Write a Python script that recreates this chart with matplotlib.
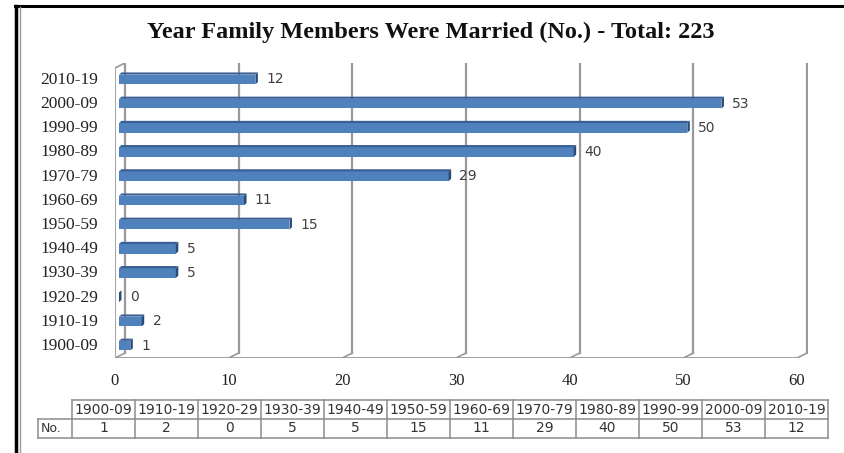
import matplotlib
matplotlib.use("Agg")
import matplotlib.pyplot as plt
from matplotlib.patches import Polygon
from matplotlib.lines import Line2D

# ---- data ----
categories = ["1900-09", "1910-19", "1920-29", "1930-39", "1940-49", "1950-59",
              "1960-69", "1970-79", "1980-89", "1990-99", "2000-09", "2010-19"]
values = [1, 2, 0, 5, 5, 15, 11, 29, 40, 50, 53, 12]
x_ticks = [0, 10, 20, 30, 40, 50, 60]
title = "Year Family Members Were Married (No.) - Total: 223"
row_label = "No."

W, H = 845, 453
fig = plt.figure(figsize=(W / 100, H / 100), dpi=100)
fig.patch.set_facecolor("white")

# main axes (front plane)
ax_l, ax_r, ax_b, ax_t = 115, 808.4, 358, 63
ax = fig.add_axes([ax_l / W, 1 - ax_b / H, (ax_r - ax_l) / W, (ax_b - ax_t) / H])
ax.set_xlim(0, 61)
ylo, yhi = -0.58, 11.61
ax.set_ylim(ylo, yhi)
for s in ax.spines.values():
    s.set_visible(False)

dx, dy = 0.88, 0.207          # wall depth offset (data units)
grid_c = "#999999"

# back gridlines with floor slants
for v in x_ticks:
    ax.add_line(Line2D([v + dx, v + dx], [ylo + dy, yhi], color=grid_c, lw=1.6, zorder=1))
    ax.add_line(Line2D([v, v + dx], [ylo, ylo + dy], color=grid_c, lw=1.2, zorder=1))
# left wall front edge and top slant
ax.add_line(Line2D([0, 0], [ylo, yhi - dy], color="#a8a8a8", lw=1.5, zorder=1))
ax.add_line(Line2D([0, dx], [yhi - dy, yhi], color=grid_c, lw=1.2, zorder=1))
# floor front edge
ax.add_line(Line2D([0, x_ticks[-1]], [ylo, ylo], color=grid_c, lw=1.3, zorder=1))

# 3D-ish bars
b0 = 0.35
bh = 0.40
bdx, bdy = 0.22, 0.09
shift = -0.07
front_c, top_c, side_c = "#4F81BD", "#395F94", "#2B4C78"
pos = [i + shift for i in range(len(categories))]
ax.barh(pos, values, height=bh, left=b0, color=front_c, edgecolor="none", zorder=3)
for i, v in zip(pos, values):
    y0, y1 = i - bh / 2, i + bh / 2
    xe = b0 + v
    ax.add_patch(Polygon([(b0, y1), (b0 + bdx, y1 + bdy), (xe + bdx, y1 + bdy), (xe, y1)],
                         closed=True, facecolor=top_c, edgecolor="none", zorder=3))
    ax.add_patch(Polygon([(xe, y0), (xe + bdx, y0 + bdy), (xe + bdx, y1 + bdy), (xe, y1)],
                         closed=True, facecolor=side_c, edgecolor="none", zorder=3))
    ax.text(xe + 0.95, i, str(v), ha="left", va="center", fontsize=10,
            family="DejaVu Sans", color="#404040", zorder=4)

ax.set_yticks(range(len(categories)))
ax.set_yticklabels(categories, family="Liberation Serif", fontsize=12.5, color="#222222")
ax.set_xticks(x_ticks)
ax.set_xticklabels([str(t) for t in x_ticks], family="Liberation Serif", fontsize=12,
                   color="#222222")
ax.tick_params(axis="y", length=0, pad=12)
ax.tick_params(axis="x", length=0, pad=11)
ax.set_facecolor("none")

# title
fig.text(0.51, 1 - 32 / H, title, ha="center", va="center", family="Liberation Serif",
         fontweight="bold", fontsize=17.5, color="#111111")

# data table
tl, tr, tt, tb = 38, 828, 400, 438
tax = fig.add_axes([tl / W, 1 - tb / H, (tr - tl) / W, (tb - tt) / H])
lab_w = 34 / 63
n = len(categories)
tax.set_xlim(-lab_w, n)
tax.set_ylim(0, 2)
tax.axis("off")
tc = "#8c8c8c"
tax.add_line(Line2D([0, n], [2, 2], color=tc, lw=1.1, clip_on=False))
tax.add_line(Line2D([-lab_w, n], [1, 1], color=tc, lw=1.1, clip_on=False))
tax.add_line(Line2D([-lab_w, n], [0, 0], color=tc, lw=1.1, clip_on=False))
tax.add_line(Line2D([-lab_w, -lab_w], [0, 1], color=tc, lw=1.1, clip_on=False))
for k in range(n + 1):
    tax.add_line(Line2D([k, k], [0, 2], color=tc, lw=1.1, clip_on=False))
for k, (c, v) in enumerate(zip(categories, values)):
    tax.text(k + 0.5, 1.5, c, ha="center", va="center", fontsize=10,
             family="DejaVu Sans", color="#333333")
    tax.text(k + 0.5, 0.5, str(v), ha="center", va="center", fontsize=10,
             family="DejaVu Sans", color="#333333")
tax.text(-lab_w + 0.05, 0.5, row_label, ha="left", va="center", fontsize=9,
         family="DejaVu Sans", color="#333333")

# outer frame lines (top and left border of the chart image)
fig.add_artist(Line2D([15 / W, 1], [1 - 5.5 / H, 1 - 5.5 / H], transform=fig.transFigure,
                      color="black", lw=2.2))
fig.add_artist(Line2D([16 / W, 16 / W], [0, 1 - 5.5 / H], transform=fig.transFigure,
                      color="black", lw=2.5))
fig.add_artist(Line2D([19.5 / W, 19.5 / W], [0, 1 - 7 / H], transform=fig.transFigure,
                      color="#9a9a9a", lw=1.0))

fig.savefig("out.png", dpi=100, facecolor="white")
